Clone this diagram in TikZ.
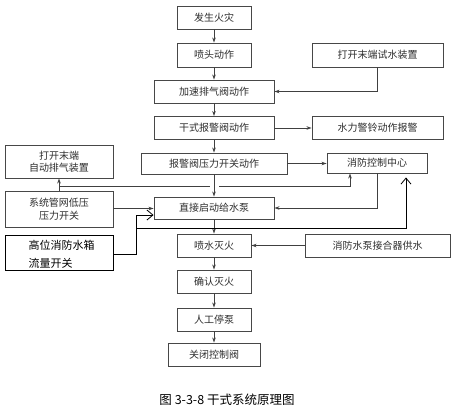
\documentclass[tikz,border=0pt]{standalone}
\usepackage{fontspec}
\setmainfont{Noto Sans CJK SC}
\usetikzlibrary{arrows.meta}
\begin{document}
\begin{tikzpicture}[x=1pt,y=-1pt,
  box/.style={draw=black!72,line width=0.9pt,fill=white,inner sep=1pt,align=center,
    text=black!82,font=\fontsize{10}{12.5}\selectfont},
  ln/.style={draw=black!75,line width=0.8pt},
  arr/.style={ln,-{Stealth[length=5pt,width=3.5pt]}},
  barb/.style={draw=black,line width=0.8pt,-{Straight Barb[length=6pt,width=10pt]}}]
\useasboundingbox (0,0) rectangle (464,416);
% main column
\node[box,minimum width=74pt,minimum height=23pt] (fire) at (214,17.5) {发生火灾};
\node[box,minimum width=74pt,minimum height=24pt] (spr) at (214,55) {喷头动作};
\node[box,minimum width=131pt,minimum height=24pt] (test) at (377.5,55) {打开末端试水装置};
\node[box,minimum width=120pt,minimum height=23pt] (exh) at (214,91.5) {加速排气阀动作};
\node[box,minimum width=120pt,minimum height=23pt] (dry) at (214,128) {干式报警阀动作};
\node[box,minimum width=131pt,minimum height=23pt] (bell) at (377.5,128) {水力警铃动作报警};
\node[box,minimum width=146pt,minimum height=21pt] (psw) at (214,163.5) {报警阀压力开关动作};
\node[box,minimum width=100pt,minimum height=20pt] (cc) at (377,163) {消防控制中心};
\node[box,minimum width=108pt,minimum height=33pt] (oe) at (59,161.5) {打开末端\\自动排气装置};
\node[box,minimum width=108pt,minimum height=36pt] (sys) at (59,209) {系统管网低压\\压力开关};
\node[box,minimum width=120pt,minimum height=22pt] (pump) at (214,208) {直接启动给水泵};
\node[draw=black,line width=0.65pt,minimum width=108pt,minimum height=35pt] (tank) at (59,252.5) {};
\node[anchor=west,font=\fontsize{11}{12}\selectfont,text=black] (tank1) at (25,245) {高位消防水箱};
\node[anchor=west,font=\fontsize{11}{12}\selectfont,text=black] (tank2) at (25,263) {流量开关};
\node[box,minimum width=74pt,minimum height=23pt] (spray) at (214,245.5) {喷水灭火};
\node[box,minimum width=145pt,minimum height=23pt] (adp) at (377.5,245.5) {消防水泵接合器供水};
\node[box,minimum width=74pt,minimum height=23pt] (conf) at (214,281.5) {确认灭火};
\node[box,minimum width=74pt,minimum height=23pt] (man) at (214,319.5) {人工停泵};
\node[box,minimum width=92pt,minimum height=23pt] (close) at (214,354.5) {关闭控制阀};
\node[font=\fontsize{12.5}{14}\selectfont,text=black] (cap) at (227,400) {图 3-3-8 干式系统原理图};
% main arrows
\draw[arr] (fire) -- (spr);
\draw[arr] (spr) -- (exh);
\draw[arr] (exh) -- (dry);
\draw[arr] (dry) -- (psw);
\draw[arr] (psw) -- (pump);
\draw[arr] (pump) -- (spray);
\draw[arr] (spray) -- (conf);
\draw[arr] (conf) -- (man);
\draw[arr] (man) -- (close);
% side arrows
\draw[arr] (test.south) |- (exh.east);
\draw[arr] (dry.east) -- (bell.west);
\draw[arr] (psw.east) -- (psw.east -| cc.west);
\draw[arr] (cc.south) |- (pump.east);
\draw[arr] (adp.west) -- (adp.west -| spray.east);
% low pressure switch
\coordinate (j1) at (59,186);
\coordinate (g1) at (210,186);
\coordinate (g2) at (219,186);
\coordinate (c1) at (350,186);
\draw[arr] (sys.north) -- (oe.south);
\draw[ln] (j1) -- (g1);
\draw[arr] (g2) -- (c1) -- (c1 |- cc.south);
\draw[arr] (sys.east |- 0,208.5) -- (pump.west |- 0,208.5);
% tank flow switch
\coordinate (t1) at (136,254);
\coordinate (t2) at (136,215);
\coordinate (t3) at (136,228);
\coordinate (t4) at (406,228);
\draw[draw=black,line width=0.8pt] (tank.east |- t1) -- (t1) -- (t2);
\draw[barb] (t2) -- (pump.west |- t2);
\draw[barb,shorten >=4pt] (t3) -- (t4) -- (t4 |- cc.south);
\end{tikzpicture}
\end{document}
